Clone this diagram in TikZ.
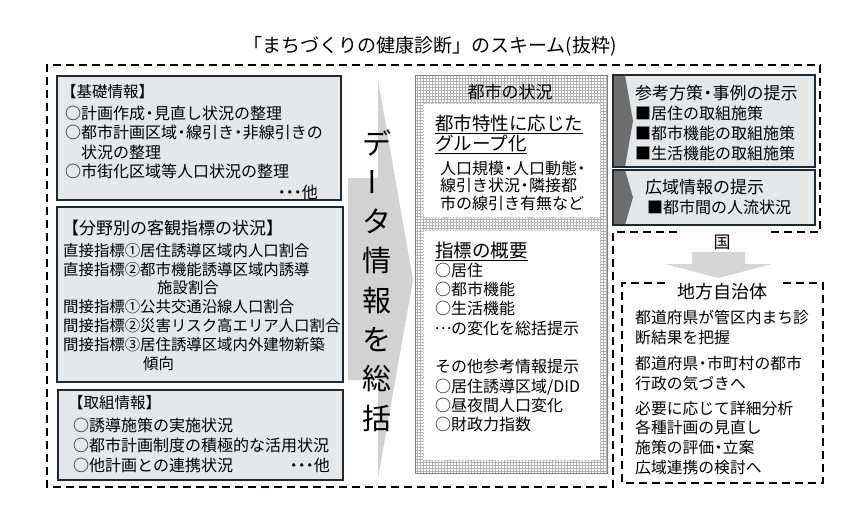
\documentclass[tikz,border=0pt]{standalone}
\usepackage{fontspec}
\setmainfont{Noto Sans CJK JP}
\usepackage{tikz}
\usetikzlibrary{patterns}
\usepackage{xcolor}
\definecolor{boxfill}{HTML}{E6E7E8}
\definecolor{boxline}{HTML}{1C2B33}
\definecolor{arrowgray}{HTML}{D2D2D2}
\definecolor{chevgray}{HTML}{6E6E6E}
\newcommand{\setfs}[2]{\fontsize{#1pt}{#2pt}\selectfont}
\newcommand{\ndot}{\makebox[0.55em]{・}}
\newcommand{\middots}{\makebox[0.5em]{・}\makebox[0.5em]{・}\makebox[0.5em]{・}}
\tikzset{
  dashline/.style={line width=1.7pt, dash pattern=on 8pt off 5pt},
  graybox/.style={draw=boxline, line width=1.8pt, fill=boxfill},
  txt/.style={inner sep=0pt, align=left, anchor=north west},
  lbl/.style={inner sep=0pt},
}

\begin{document}
\begin{tikzpicture}[x=1pt,y=-1pt]
\useasboundingbox (0,0) rectangle (863,531);
\node[lbl, font=\setfs{19}{20}] (title) at (430,46) {「まちづくりの健康診断」のスキーム(抜粋)};
% outer dashed lines
\draw[dashline] (677,232) -- (613,232) -- (613,487) -- (47,487) -- (47,65) -- (820,65) -- (820,232) -- (767,232);
\node[lbl, font=\setfs{17}{17}] (kuni) at (722,242) {国};
\draw[dashline] (665,283) -- (622,283) -- (622,483) -- (823,483) -- (823,283) -- (783,283);
\node[lbl, font=\setfs{18}{18}] (jichi) at (722,292) {地方自治体};
\fill[arrowgray!90] (692,252) -- (745,252) -- (745,264) -- (772,264) -- (718.5,278) -- (665,264) -- (692,264) -- cycle;

% left boxes
\draw[graybox] (57,76) rectangle (341,200);
\node[lbl, anchor=west, font=\setfs{15.5}{16}] (b1t) at (61,92) {【基礎情報】};
\node[txt, font=\setfs{16}{19.4}] (b1) at (65,105.6) {○計画作成\ndot 見直し状況の整理\\○都市計画区域\ndot 線引き\ndot 非線引きの\\\hspace*{1em}状況の整理\\○市街化区域等人口状況の整理};
\node[lbl, anchor=east, font=\setfs{16}{16}] (b1e) at (318,192) {\middots 他};

\draw[graybox] (57,207) rectangle (343,382);
\node[lbl, anchor=west, font=\setfs{17}{17}] (b2t) at (62,228) {【分野別の客観指標の状況】};
\node[txt, font=\setfs{15.4}{18.9}] (b2) at (63,242.9) {直接指標①居住誘導区域内人口割合\\直接指標②都市機能誘導区域内誘導\\\hspace*{94pt}施設割合\\間接指標①公共交通沿線人口割合\\間接指標②災害リスク高エリア人口割合\\間接指標③居住誘導区域内外建物新築\\\hspace*{80pt}傾向};

\draw[graybox] (58,390) rectangle (343,480);
\node[lbl, anchor=west, font=\setfs{15.5}{16}] (b3t) at (68,403) {【取組情報】};
\node[txt, font=\setfs{16}{20}] (b3) at (73,417.6) {○誘導施策の実施状況\\○都市計画制度の積極的な活用状況\\○他計画との連携状況};
\node[lbl, anchor=east, font=\setfs{16}{16}] (b3e) at (330,465) {\middots 他};

% big arrow
\fill[arrowgray] (348,178) -- (378,178) -- (378,80) -- (413,280) -- (378,478) -- (378,380) -- (348,380) -- cycle;
\foreach \c/\r [count=\i] in {デ/0,ー/90,タ/0,情/0,報/0,を/0,総/0,括/0}
  \node[lbl, rotate=\r, font=\setfs{29}{29}] (dt\i) at (377,{143+(\i-1)*39.3}) {\c};

% city status
\draw[gray, pattern=grid, pattern color=gray!60] (415,75) rectangle (607,473);
\draw[gray!40, densely dotted, fill=white] (423,103) rectangle (600,217);
\draw[gray!40, densely dotted, fill=white] (423,230) rectangle (600,460);
\node[lbl, font=\setfs{17}{17}] (ct) at (510,92) {都市の状況};
\node[txt, font=\setfs{18.5}{20}] (c1t) at (435,114.5) {\underline{都市特性に応じた}\\\underline{グループ化}};
\node[txt, font=\setfs{16}{17.6}] (c1) at (440,160.6) {人口規模\ndot 人口動態\ndot\\線引き状況\ndot 隣接都\\市の線引き有無など};
\node[txt, font=\setfs{18.5}{20}] (c2t) at (435,241.5) {\underline{指標の概要}};
\node[txt, font=\setfs{16}{19.3}] (c2) at (435,262.6) {○居住\\○都市機能\\○生活機能\\\makebox[1em]{\raisebox{0.3em}{…}}の変化を総括提示\\[19.3pt]その他参考情報提示\\○居住誘導区域/DID\\○昼夜間人口変化\\○財政力指数};

% national boxes
\fill[boxfill] (613,75) rectangle (815,167);
\fill[chevgray] (613,75) -- (625,75) -- (633,121) -- (625,167) -- (613,167) -- cycle;
\draw[boxline, line width=1.8pt] (613,75) rectangle (815,167);
\node[lbl, anchor=west, font=\setfs{17}{17}] (r1t) at (635,93) {参考方策\ndot 事例の提示};
\node[txt, font=\setfs{16}{20}] (r1) at (635,105.6) {■居住の取組施策\\■都市機能の取組施策\\■生活機能の取組施策};
\fill[boxfill] (613,170) rectangle (815,225);
\fill[chevgray] (613,170) -- (625,170) -- (633,197.5) -- (625,225) -- (613,225) -- cycle;
\draw[boxline, line width=1.8pt] (613,170) rectangle (815,225);
\node[lbl, anchor=west, font=\setfs{17}{17}] (r2t) at (645,187) {広域情報の提示};
\node[lbl, anchor=west, font=\setfs{16}{16}] (r2) at (647,207) {■都市間の人流状況};

% local government
\node[txt, font=\setfs{15.8}{20}] (l1) at (635,309.7) {都道府県が管区内まち診\\断結果を把握};
\node[txt, font=\setfs{15.8}{20}] (l2) at (635,355.7) {都道府県\ndot 市町村の都市\\行政の気づきへ};
\node[txt, font=\setfs{15.8}{19.7}] (l3) at (635,400.7) {必要に応じて詳細分析\\各種計画の見直し\\施策の評価\ndot 立案\\広域連携の検討へ};
\end{tikzpicture}
\end{document}
